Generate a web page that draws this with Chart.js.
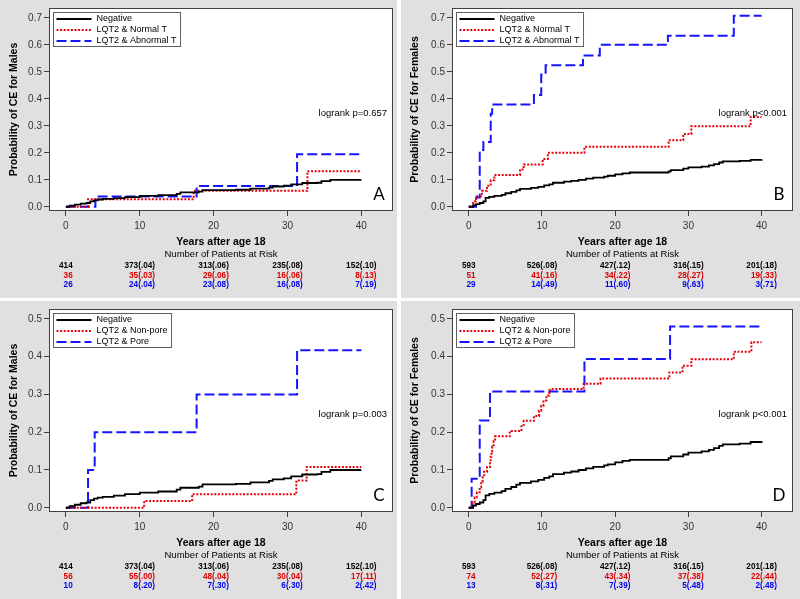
<!DOCTYPE html>
<html>
<head>
<meta charset="utf-8">
<script src="https://cdn.jsdelivr.net/npm/chart.js@4.4.0/dist/chart.umd.min.js"></script>
<style>
  body { margin: 0; background: #fff; width: 800px; height: 599px; position: relative; overflow: hidden; }
  .panel { position: absolute; background: #e0e0e0; }
  canvas { display: block; }
</style>
</head>
<body>
<div class="panel" style="left:0;top:0;width:397px;height:298px"><canvas id="cA" width="397" height="298"></canvas></div>
<div class="panel" style="left:401px;top:0;width:399px;height:298px"><canvas id="cB" width="399" height="298"></canvas></div>
<div class="panel" style="left:0;top:301px;width:397px;height:298px"><canvas id="cC" width="397" height="298"></canvas></div>
<div class="panel" style="left:401px;top:301px;width:399px;height:298px"><canvas id="cD" width="399" height="298"></canvas></div>
<script>
const FONT = '"Liberation Sans", Arial, sans-serif'
const RED = '#e8000b'
const BLUE = '#1414ff'

const xTicks = [0, 10, 20, 30, 40]

// Negative (males), used in A and C
const negMaleT = [0, 0.5, 1.2, 2.0, 2.8, 3.3, 3.8, 4.3, 5.0, 6.5, 8, 10, 12.5, 15, 15.5, 18, 18.5, 23, 25, 27.5, 28, 29.5, 30.5, 32, 34, 34.6, 35.8, 40]
const negMaleP = [0, 0.004, 0.008, 0.012, 0.014, 0.02, 0.024, 0.027, 0.029, 0.032, 0.036, 0.04, 0.043, 0.048, 0.053, 0.056, 0.062, 0.063, 0.067, 0.071, 0.075, 0.078, 0.083, 0.088, 0.089, 0.095, 0.1, 0.1]
// Negative (females), used in B and D
const negFemT = [0, 0.3, 0.6, 1.0, 1.5, 2.0, 2.3, 2.8, 3.5, 4.5, 5.0, 5.8, 6.5, 7.0, 8.5, 9.5, 10.3, 11.0, 11.5, 13, 14, 15, 16, 17, 18.5, 19, 20, 21, 22, 27.3, 27.6, 29.3, 30, 31.8, 32.8, 33.5, 34.2, 34.7, 37, 38.5, 40]
const negFemP = [0, 0, 0.006, 0.01, 0.014, 0.02, 0.033, 0.037, 0.04, 0.044, 0.05, 0.055, 0.061, 0.066, 0.07, 0.074, 0.079, 0.083, 0.089, 0.093, 0.096, 0.1, 0.104, 0.108, 0.112, 0.115, 0.12, 0.124, 0.127, 0.131, 0.136, 0.141, 0.146, 0.149, 0.153, 0.158, 0.164, 0.168, 0.17, 0.174, 0.176]

// A: males by T wave
const normTMaleT = [0, 3.0, 17.3, 32.7, 40]
const normTMaleP = [0, 0.028, 0.059, 0.132, 0.132]
const abnTMaleT = [0, 4.0, 17.7, 31.3, 40]
const abnTMaleP = [0, 0.038, 0.077, 0.195, 0.195]

// B: females by T wave
const normTFemT = [0, 0.3, 0.6, 1.0, 1.8, 2.5, 3.0, 3.5, 7.0, 7.5, 10.1, 10.8, 15.8, 27.3, 29.3, 30.4, 38.5, 40]
const normTFemP = [0, 0, 0.02, 0.039, 0.059, 0.078, 0.098, 0.118, 0.138, 0.157, 0.177, 0.2, 0.222, 0.246, 0.27, 0.298, 0.333, 0.333]
const abnTFemT = [0, 0.3, 1.0, 1.5, 2.0, 3.0, 3.2, 8.9, 9.9, 10.5, 15.6, 17.9, 27.2, 36.2, 40]
const abnTFemP = [0, 0, 0.034, 0.21, 0.24, 0.345, 0.379, 0.414, 0.49, 0.524, 0.56, 0.6, 0.634, 0.708, 0.708]

// C: males by location
const nonPoreMaleT = [0, 10.6, 17.1, 31.2, 32.6, 40]
const nonPoreMaleP = [0, 0.018, 0.036, 0.072, 0.108, 0.108]
const poreMaleT = [0, 3.0, 3.9, 17.7, 31.3, 40]
const poreMaleP = [0, 0.1, 0.2, 0.3, 0.417, 0.417]

// D: females by location
const nonPoreFemT = [0, 0.3, 0.5, 0.8, 1.1, 1.5, 1.7, 1.9, 2.1, 2.5, 2.9, 3.0, 3.1, 3.2, 3.4, 3.6, 5.6, 7.2, 7.5, 8.9, 9.6, 9.9, 10.2, 10.6, 11.0, 11.3, 15.7, 18, 27.4, 29.2, 30.4, 36.2, 38.6, 40]
const nonPoreFemP = [0, 0, 0.014, 0.027, 0.041, 0.054, 0.068, 0.081, 0.095, 0.108, 0.122, 0.135, 0.149, 0.162, 0.176, 0.189, 0.203, 0.216, 0.23, 0.243, 0.257, 0.27, 0.284, 0.297, 0.311, 0.314, 0.328, 0.342, 0.358, 0.376, 0.393, 0.413, 0.438, 0.438]
const poreFemT = [0, 0.3, 0.4, 1.5, 2.9, 15.8, 27.5, 40]
const poreFemP = [0, 0, 0.077, 0.231, 0.308, 0.394, 0.48, 0.48]

// numbers at risk (cumulative probability)
const riskNegMale = ['414', '373(.04)', '313(.06)', '235(.08)', '152(.10)']
const riskNegFem = ['593', '526(.08)', '427(.12)', '316(.15)', '201(.18)']
const riskNormTMale = ['36', '35(.03)', '29(.06)', '16(.06)', '8(.13)']
const riskAbnTMale = ['26', '24(.04)', '23(.08)', '16(.08)', '7(.19)']
const riskNormTFem = ['51', '41(.16)', '34(.22)', '28(.27)', '19(.33)']
const riskAbnTFem = ['29', '14(.49)', '11(.60)', '9(.63)', '3(.71)']
const riskNonPoreMale = ['56', '55(.00)', '48(.04)', '30(.04)', '17(.11)']
const riskPoreMale = ['10', '8(.20)', '7(.30)', '6(.30)', '2(.42)']
const riskNonPoreFem = ['74', '52(.27)', '43(.34)', '37(.38)', '22(.44)']
const riskPoreFem = ['13', '8(.31)', '7(.39)', '5(.48)', '2(.48)']

const labelsT = ['Negative', 'LQT2 & Normal T', 'LQT2 & Abnormal T']
const labelsLoc = ['Negative', 'LQT2 & Non-pore', 'LQT2 & Pore']

const styles = [
    {color: '#000', dash: [], width: 1.8},
    {color: RED, dash: [2, 1.6], width: 2},
    {color: BLUE, dash: [10, 4], width: 2}
]

function kmSet(label, xs, ys, st){
    return {
        label: label,
        data: xs.map((x, i) => ({x: x, y: ys[i]})),
        borderColor: st.color,
        borderDash: st.dash,
        borderWidth: st.width,
        stepped: true,
        pointRadius: 0,
        fill: false
    }
}

const overlay = {
    id: 'overlay',
    beforeDraw(chart){
        const ctx = chart.ctx
        const a = chart.chartArea
        ctx.save()
        ctx.fillStyle = '#fff'
        ctx.fillRect(a.left, a.top, a.right - a.left, a.bottom - a.top)
        ctx.restore()
    },
    afterDraw(chart, args, o){
        const ctx = chart.ctx
        const a = chart.chartArea
        const x = chart.scales.x
        ctx.save()

        // frame
        ctx.strokeStyle = '#404040'
        ctx.lineWidth = 1
        ctx.setLineDash([])
        ctx.strokeRect(Math.round(a.left) - 0.5, Math.round(a.top) + 0.5, Math.round(a.right - a.left) + 1, Math.round(a.bottom - a.top) - 1)

        // legend box
        ctx.font = '9px ' + FONT
        let tw = 0
        o.labels.forEach(l => { tw = Math.max(tw, ctx.measureText(l).width) })
        const lx = a.left + 3.5, ly = a.top + 4.5
        const bw = 43 + tw + 4
        ctx.fillStyle = '#fff'
        ctx.fillRect(lx, ly, bw, 34)
        ctx.strokeStyle = '#606060'
        ctx.strokeRect(lx, ly, bw, 34)
        o.labels.forEach((l, i) => {
            const yy = ly + 6.5 + i * 11
            ctx.strokeStyle = styles[i].color
            ctx.lineWidth = styles[i].width
            ctx.setLineDash(styles[i].dash)
            ctx.beginPath()
            ctx.moveTo(lx + 3, yy)
            ctx.lineTo(lx + 38, yy)
            ctx.stroke()
            ctx.fillStyle = '#000'
            ctx.textAlign = 'left'
            ctx.textBaseline = 'middle'
            ctx.fillText(l, lx + 43, yy)
        })
        ctx.setLineDash([])

        // logrank
        ctx.font = '9.5px ' + FONT
        ctx.fillStyle = '#000'
        ctx.textAlign = 'right'
        ctx.textBaseline = 'middle'
        ctx.fillText(o.logrank, a.right - 5, a.top + 105)

        // panel letter
        ctx.font = '17px Lato, "Open Sans", sans-serif'
        ctx.textAlign = 'center'
        ctx.fillText(o.letter, a.right - 13, a.bottom - 16)

        // x title
        const cx = (a.left + a.right) / 2
        ctx.font = 'bold 10.5px ' + FONT
        ctx.fillText('Years after age 18', cx, a.bottom + 31)
        ctx.font = '9.5px ' + FONT
        ctx.fillText('Number of Patients at Risk', cx, a.bottom + 43)

        // risk table
        ctx.font = 'bold 8.2px ' + FONT
        ctx.textAlign = 'right'
        const colors = ['#000', '#dd0000', '#0000ee']
        xTicks.forEach((t, j) => {
            const px = x.getPixelForValue(t)
            const right = px + ctx.measureText(o.risk[0][j]).width / 2
            o.risk.forEach((row, i) => {
                ctx.fillStyle = colors[i]
                ctx.fillText(row[j], right, a.bottom + 55 + i * 9.5)
            })
        })
        ctx.restore()
    }
}

function makePanel(id, opt){
    const yTicks = []
    for (let v = 0; v <= opt.yTop + 1e-9; v += 0.1) yTicks.push(Math.round(v * 10) / 10)
    return new Chart(document.getElementById(id), {
        type: 'line',
        data: {
            datasets: [
                kmSet(opt.labels[0], opt.sets[0][0], opt.sets[0][1], styles[0]),
                kmSet(opt.labels[1], opt.sets[1][0], opt.sets[1][1], styles[1]),
                kmSet(opt.labels[2], opt.sets[2][0], opt.sets[2][1], styles[2])
            ]
        },
        options: {
            responsive: false,
            animation: false,
            layout: {padding: {top: 5, right: opt.padRight, left: 0, bottom: 0}},
            plugins: {
                legend: {display: false},
                tooltip: {enabled: false},
                overlay: {labels: opt.labels, logrank: opt.logrank, letter: opt.letter, risk: opt.risk}
            },
            scales: {
                x: {
                    type: 'linear',
                    min: -2.15,
                    max: 44.15,
                    afterBuildTicks: s => { s.ticks = xTicks.map(v => ({value: v})) },
                    afterFit: s => { s.height = 87 },
                    grid: {drawOnChartArea: false, drawTicks: true, tickLength: 5, color: '#404040'},
                    border: {display: false},
                    ticks: {font: {family: FONT, size: 10}, color: '#333', padding: 4, maxRotation: 0, callback: v => String(v)}
                },
                y: {
                    type: 'linear',
                    min: -opt.yTop * 0.0224,
                    max: opt.yTop * 1.052,
                    afterBuildTicks: s => { s.ticks = yTicks.map(v => ({value: v})) },
                    afterFit: s => { s.width = opt.yWidth },
                    grid: {drawOnChartArea: false, drawTicks: true, tickLength: 6, color: '#404040'},
                    border: {display: false},
                    ticks: {font: {family: FONT, size: 10}, color: '#333', padding: 2, callback: v => v.toFixed(1)},
                    title: {display: true, text: opt.yTitle, color: '#000', font: {family: FONT, size: 10.5, weight: 'bold'}, padding: {top: 7.5, bottom: 0}}
                }
            }
        },
        plugins: [overlay]
    })
}

makePanel('cA', {
    yTop: 0.7, yWidth: 50, padRight: 5, letter: 'A', logrank: 'logrank p=0.657',
    yTitle: 'Probability of CE for Males', labels: labelsT,
    sets: [[negMaleT, negMaleP], [normTMaleT, normTMaleP], [abnTMaleT, abnTMaleP]],
    risk: [riskNegMale, riskNormTMale, riskAbnTMale]
})
makePanel('cB', {
    yTop: 0.7, yWidth: 52, padRight: 8, letter: 'B', logrank: 'logrank p<0.001',
    yTitle: 'Probability of CE for Females', labels: labelsT,
    sets: [[negFemT, negFemP], [normTFemT, normTFemP], [abnTFemT, abnTFemP]],
    risk: [riskNegFem, riskNormTFem, riskAbnTFem]
})
makePanel('cC', {
    yTop: 0.5, yWidth: 50, padRight: 5, letter: 'C', logrank: 'logrank p=0.003',
    yTitle: 'Probability of CE for Males', labels: labelsLoc,
    sets: [[negMaleT, negMaleP], [nonPoreMaleT, nonPoreMaleP], [poreMaleT, poreMaleP]],
    risk: [riskNegMale, riskNonPoreMale, riskPoreMale]
})
makePanel('cD', {
    yTop: 0.5, yWidth: 52, padRight: 8, letter: 'D', logrank: 'logrank p<0.001',
    yTitle: 'Probability of CE for Females', labels: labelsLoc,
    sets: [[negFemT, negFemP], [nonPoreFemT, nonPoreFemP], [poreFemT, poreFemP]],
    risk: [riskNegFem, riskNonPoreFem, riskPoreFem]
})
</script>
</body>
</html>
